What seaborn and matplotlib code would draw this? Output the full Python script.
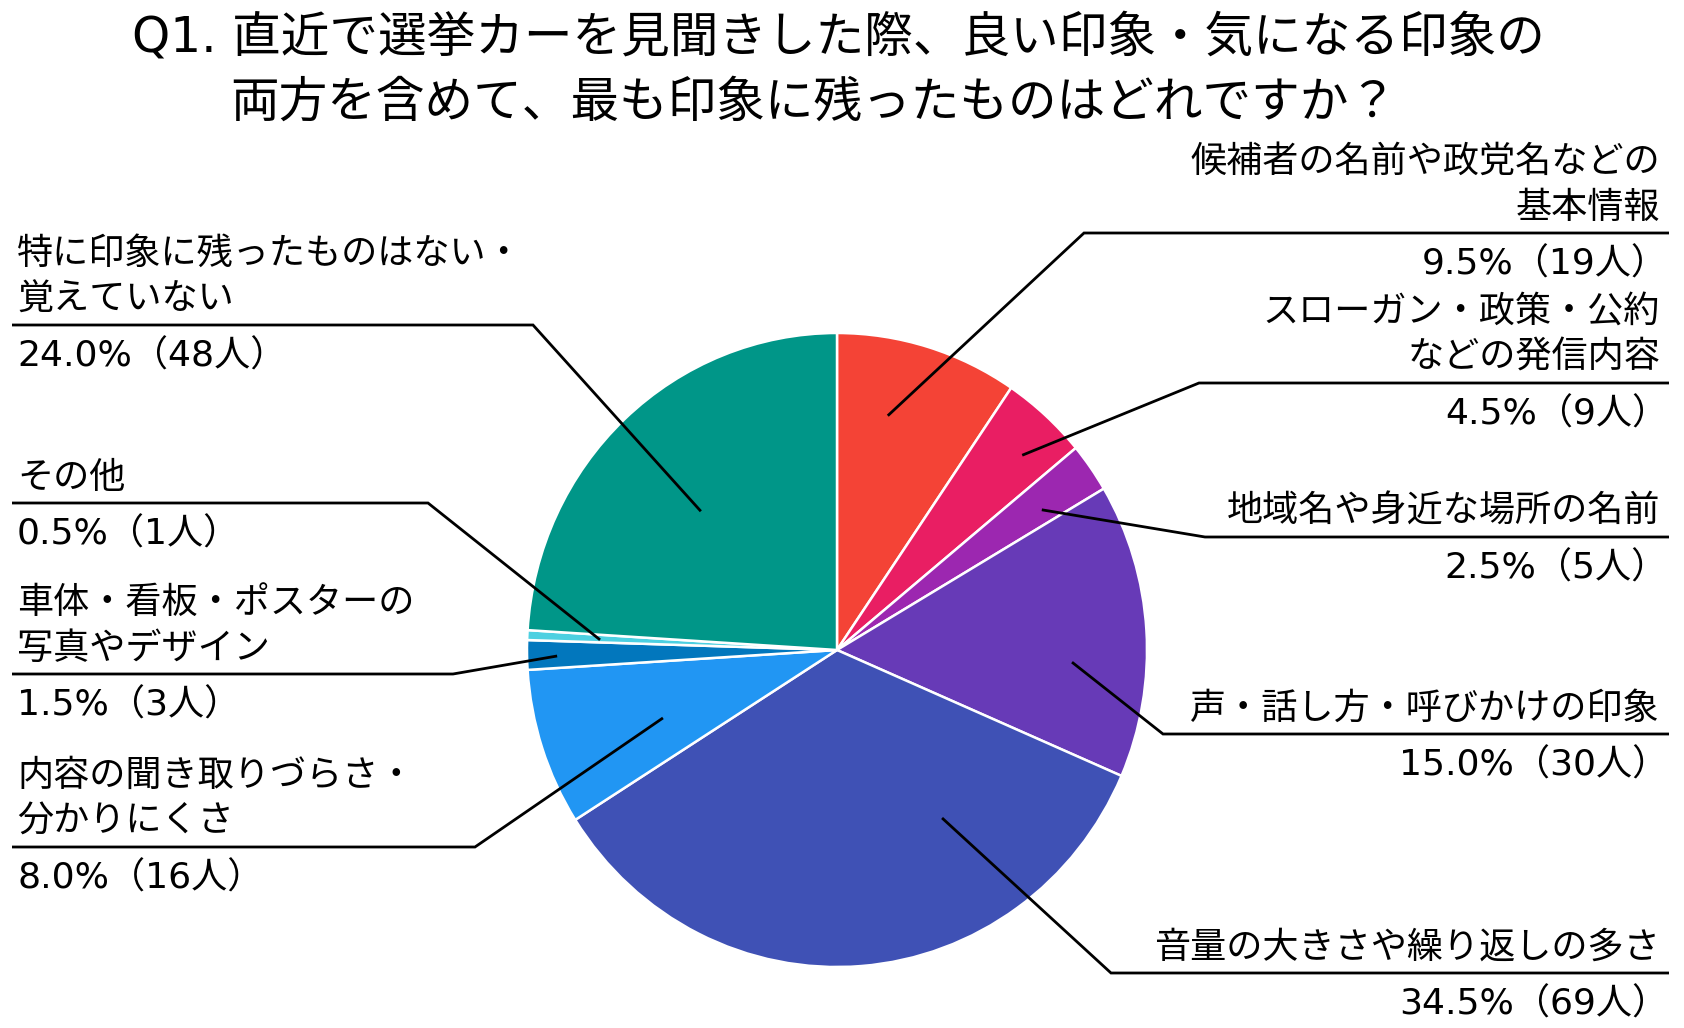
import numpy as np
import matplotlib
matplotlib.use('Agg')
import matplotlib.pyplot as plt
import seaborn as sns

# survey answers (clockwise from 12 o'clock)
categories = [
    '候補者の名前や政党名などの\n基本情報',
    'スローガン・政策・公約\nなどの発信内容',
    '地域名や身近な場所の名前',
    '声・話し方・呼びかけの印象',
    '音量の大きさや繰り返しの多さ',
    '内容の聞き取りづらさ・\n分かりにくさ',
    '車体・看板・ポスターの\n写真やデザイン',
    'その他',
    '特に印象に残ったものはない・\n覚えていない',
]
percents = [9.5, 4.5, 2.5, 15.0, 34.5, 8.0, 1.5, 0.5, 24.0]
counts = [19, 9, 5, 30, 69, 16, 3, 1, 48]
colors = ['#F44336', '#E91E63', '#9C27B0', '#673AB7', '#3F51B5',
          '#2196F3', '#0277BD', '#4DD0E1', '#009688']
title_lines = ['Q1. 直近で選挙カーを見聞きした際、良い印象・気になる印象の',
               '両方を含めて、最も印象に残ったものはどれですか？']

# label layout in pixels
side = ['R', 'R', 'R', 'R', 'R', 'L', 'L', 'L', 'L']
line_y = [233, 383, 537, 734, 973, 847, 674, 503, 325]
elbow_x = [1084, 1199, 1205, 1163, 1111, 475, 453, 428, 533]
anchor_r = [0.757, 0.857, 0.795, 0.759, 0.629, 0.601, 0.903, 0.765, 0.62]
anchor_da = [4.6, -1.9, -1.3, -6.5, 28.1, 2.9, 0.3, 0.3, 1.9]

sns.set_theme(style='white')
plt.rcParams['font.family'] = ['Noto Sans CJK JP', 'DejaVu Sans']
latin_first = ['DejaVu Sans', 'Noto Sans CJK JP']

W, H = 1684, 1028
fig = plt.figure(figsize=(W / 100, H / 100), dpi=100)
fig.patch.set_facecolor('white')

# pie
cx, cy, rx, ry = 837, 650, 310, 317
pie_ax = fig.add_axes([(cx - rx) / W, 1 - (cy + ry) / H, 2 * rx / W, 2 * ry / H])
pie_ax.pie(percents, colors=colors, startangle=90, counterclock=False, radius=1,
           wedgeprops=dict(edgecolor='white', linewidth=1.8))
pie_ax.set_aspect('auto')
pie_ax.set_xlim(-1, 1)
pie_ax.set_ylim(-1, 1)
pie_ax.axis('off')

# overlay for labels, pixel coords
ax = fig.add_axes([0, 0, 1, 1], zorder=2)
ax.set_xlim(0, W)
ax.set_ylim(H, 0)
ax.axis('off')

cum = np.cumsum([0] + percents[:-1])
mid = 90 - 3.6 * (cum + np.array(percents) / 2)

fs = 26
for i, cat in enumerate(categories):
    a = np.deg2rad(mid[i] + anchor_da[i])
    px = cx + rx * anchor_r[i] * np.cos(a)
    py = cy - ry * anchor_r[i] * np.sin(a)
    u = line_y[i]
    if side[i] == 'R':
        end, tx, vx, ha = 1669, 1660, 1668, 'right'
    else:
        end, tx, vx, ha = 12, 17, 17, 'left'
    ax.plot([px, elbow_x[i], end], [py, u, u], color='black', lw=2,
            solid_capstyle='butt', solid_joinstyle='miter')
    for k, line in enumerate(reversed(cat.split('\n'))):
        ax.text(tx, u - 25 - 46 * k, line, ha=ha, va='center', fontsize=fs, color='black')
    ax.text(vx, u + 31, f'{percents[i]:.1f}%（{counts[i]}人）', ha=ha, va='center',
            fontsize=fs, color='black', family=latin_first)

ax.text(838, 38, title_lines[0], ha='center', va='center', fontsize=35,
        color='black', family=latin_first)
ax.text(814, 103, title_lines[1], ha='center', va='center', fontsize=35, color='black')

fig.savefig('out.png', dpi=100, facecolor='white')
